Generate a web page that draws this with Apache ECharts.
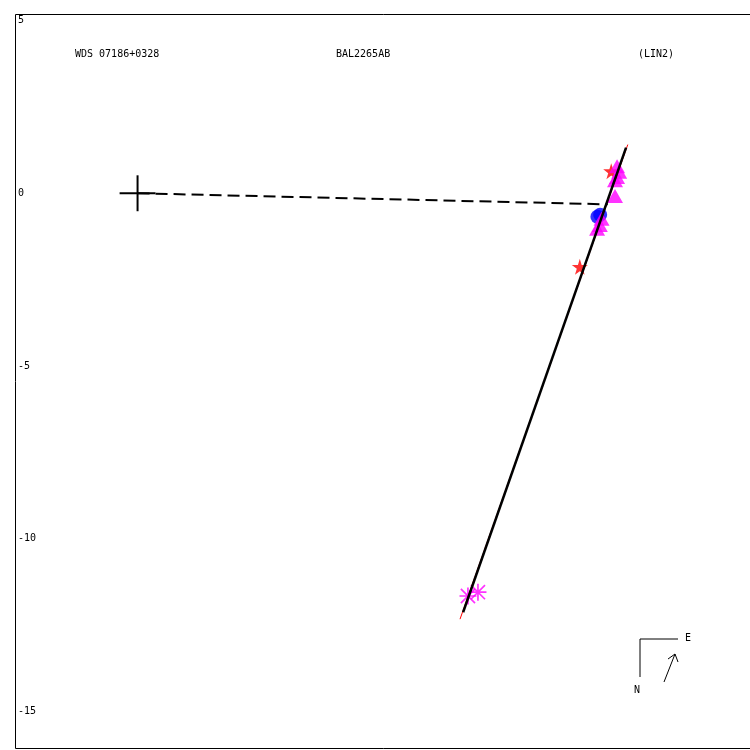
<!DOCTYPE html>
<html>
<head>
<meta charset="utf-8">
<script src="https://cdn.jsdelivr.net/npm/echarts@6/dist/echarts.min.js"></script>
<style>html,body{margin:0;padding:0;background:#fff}#c{width:750px;height:750px}</style>
</head>
<body>
<div id="c"></div>
<script>
// Tick labels
const yTicks = [5, 0, -5, -10, -15];
// Primary (origin cross), data in arcsec
const primary = [[0, 0]];
const crossHalf = 0.52;
// Fitted orbit / linear solution line
const fitLine = [[9.43, -12.13], [14.15, 1.32]];
const fitLineRed = [[9.34, -12.33], [14.20, 1.41]];
// Line from primary to ephemeris point
const ephemLine = [[0, 0], [13.62, -0.32]];
// Measures by type
const triangles = [[13.89, 0.78], [13.95, 0.62], [13.89, 0.47], [13.83, 0.38], [13.83, -0.08], [13.44, -0.74], [13.39, -0.92], [13.31, -1.03]];
const circles = [[13.32, -0.68], [13.40, -0.62]];
const stars = [[12.81, -2.13], [13.72, 0.64]];
const asterisks = [[9.57, -11.66], [9.86, -11.55]];
// Titles
const titles = ['WDS 07186+0328', 'BAL2265AB', '(LIN2)'];

const font = 'DejaVu Sans Mono';
const asteriskPath = 'path://M9,0h2v20h-2zM0,9h20v2h-20zM1,2.4L2.4,1L19,17.6L17.6,19zM17.6,1L19,2.4L2.4,19L1,17.6z';

const chart = echarts.init(document.getElementById('c'), null, {renderer: 'canvas'});
chart.setOption({
  animation: false,
  backgroundColor: '#fff',
  grid: {left: 15, top: 14, width: 735, height: 734, show: false},
  xAxis: {type: 'value', min: -3.55, max: 17.74, show: false},
  yAxis: {
    type: 'value', min: -16.06, max: 5.19,
    axisLine: {show: false}, axisTick: {show: false}, splitLine: {show: false},
    axisLabel: {inside: true, margin: 3, customValues: yTicks, color: '#000', fontFamily: font, fontSize: 10, formatter: v => String(v)}
  },
  series: [
    {type: 'scatter', data: stars, symbol: 'path://M50,0L61,35L98,35L68,57L79,91L50,70L21,91L32,57L2,35L39,35z', symbolSize: 16, itemStyle: {color: '#ff0000'}, z: 2},
    {type: 'scatter', data: circles, symbol: 'circle', symbolSize: 14, itemStyle: {color: '#0000ff'}, z: 3},
    {type: 'scatter', data: triangles, symbol: 'triangle', symbolSize: [16, 14], itemStyle: {color: '#ff00ff'}, z: 4},
    {type: 'scatter', data: asterisks, symbol: asteriskPath, symbolSize: 17, itemStyle: {color: '#ff00ff'}, z: 4},
    {type: 'line', data: fitLineRed, symbol: 'none', lineStyle: {color: '#ff0000', width: 1}, z: 5},
    {type: 'line', data: fitLine, symbol: 'none', lineStyle: {color: '#000', width: 2.5}, z: 6},
    {type: 'line', data: ephemLine, symbol: 'none', lineStyle: {color: '#000', width: 2, type: [12, 6]}, z: 6},
    {type: 'line', data: [[primary[0][0] - crossHalf, primary[0][1]], [primary[0][0] + crossHalf, primary[0][1]]], symbol: 'none', lineStyle: {color: '#000', width: 2}, z: 7},
    {type: 'line', data: [[primary[0][0], primary[0][1] - crossHalf], [primary[0][0], primary[0][1] + crossHalf]], symbol: 'none', lineStyle: {color: '#000', width: 2}, z: 7}
  ],
  graphic: [
    // frame (top, left, bottom; right edge is off-canvas)
    {type: 'polyline', shape: {points: [[752, 14.5], [15.5, 14.5], [15.5, 748.5], [752, 748.5]]}, style: {stroke: '#000', lineWidth: 1, fill: null}},
    {type: 'text', left: 75, top: 49, style: {text: titles[0], font: '10px ' + font, fill: '#000'}},
    {type: 'text', left: 336, top: 49, style: {text: titles[1], font: '10px ' + font, fill: '#000'}},
    {type: 'text', left: 638, top: 49, style: {text: titles[2], font: '10px ' + font, fill: '#000'}},
    // compass
    {type: 'polyline', shape: {points: [[678, 639], [640, 639], [640, 677]]}, style: {stroke: '#000', lineWidth: 1, fill: null}},
    {type: 'text', x: 685, y: 633, style: {text: 'E', font: '10px ' + font, fill: '#000'}},
    {type: 'text', x: 634, y: 685, style: {text: 'N', font: '10px ' + font, fill: '#000'}},
    {type: 'polyline', shape: {points: [[664, 682], [675, 654]]}, style: {stroke: '#000', lineWidth: 1, fill: null}},
    {type: 'polyline', shape: {points: [[668, 659], [675, 654], [678, 662]]}, style: {stroke: '#000', lineWidth: 1, fill: null}}
  ]
});
</script>
</body>
</html>
